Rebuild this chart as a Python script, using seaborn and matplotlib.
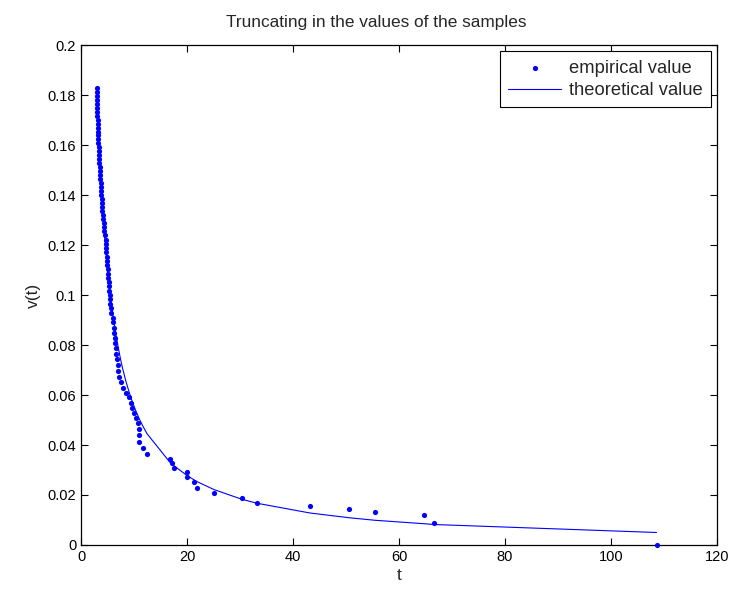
import numpy as np
import pandas as pd
import matplotlib
matplotlib.use('Agg')
import matplotlib.pyplot as plt
import seaborn as sns

# empirical points
emp_t = [2.94, 2.96, 2.98, 3.00, 3.02, 3.05, 3.07, 3.10, 3.12, 3.15, 3.17, 3.20, 3.23, 3.26, 3.29, 3.32, 3.35, 3.39, 3.43,
         3.47, 3.51, 3.55, 3.60, 3.64, 3.69, 3.73, 3.78, 3.83, 3.88, 3.93, 3.99, 4.05, 4.11, 4.17, 4.24, 4.32, 4.40, 4.50,
         4.62, 4.66, 4.72, 4.78, 4.84, 4.90, 4.96, 5.02, 5.08, 5.14, 5.20, 5.26, 5.33, 5.40, 5.47, 5.55, 5.63, 5.72,
         5.95, 6.06, 6.13, 6.25, 6.38, 6.44, 6.51, 6.57, 6.70, 6.89, 7.00, 7.19, 7.45, 7.83, 8.45,
         9.01, 9.39, 9.71, 10.0, 10.33, 10.7, 10.96, 10.96, 10.96, 11.7, 12.46,
         16.73, 17.16, 17.48, 20.06, 20.06, 21.3, 21.94, 25.06, 30.33, 33.2, 43.2, 50.6, 55.4, 64.8, 66.6, 108.6]
emp_v = [0.1828, 0.1812, 0.1796, 0.1780, 0.1765, 0.1749, 0.1733, 0.1717, 0.1702, 0.1686, 0.1670, 0.1654, 0.1639, 0.1623, 0.1607, 0.1591, 0.1576, 0.1560, 0.1544,
         0.1528, 0.1512, 0.1496, 0.1480, 0.1464, 0.1448, 0.1432, 0.1416, 0.1400, 0.1384, 0.1368, 0.1352, 0.1336, 0.1320, 0.1304, 0.1288, 0.1272, 0.1256, 0.1240,
         0.1222, 0.1205, 0.1188, 0.1171, 0.1154, 0.1137, 0.1120, 0.1103, 0.1086, 0.1069, 0.1052, 0.1035, 0.1018, 0.1001, 0.0984, 0.0966, 0.0948, 0.0930,
         0.0909, 0.0891, 0.0869, 0.0849, 0.0829, 0.0807, 0.0787, 0.0763, 0.0743, 0.0720, 0.0696, 0.0673, 0.0653, 0.0629, 0.0607,
         0.0591, 0.0569, 0.0549, 0.0527, 0.0507, 0.0487, 0.0463, 0.0440, 0.0413, 0.0387, 0.0363,
         0.0344, 0.0327, 0.0309, 0.0291, 0.0273, 0.0253, 0.0229, 0.0207, 0.0188, 0.0168, 0.0154, 0.0143, 0.0130, 0.0119, 0.0088, 0.0]

# theoretical curve
theo_t = [2.94, 3.2, 3.5, 4.0, 4.5, 5.0, 5.5, 6.0, 6.5, 7.0, 7.45, 7.83, 8.45, 9.01, 9.39, 9.71, 10.0, 10.33, 10.7, 10.96,
          11.7, 12.46, 16.73, 17.16, 17.48, 20.06, 21.3, 21.94, 25.06, 30.33, 33.2, 43.2, 50.6, 55.4, 64.8, 66.6, 108.6]
theo_v = [0.182, 0.169, 0.155, 0.137, 0.122, 0.110, 0.1005, 0.0922, 0.0852, 0.0792, 0.0744, 0.0708, 0.0656, 0.0616, 0.0591,
          0.0572, 0.0555, 0.0537, 0.0519, 0.0506, 0.0474, 0.0445, 0.0332, 0.0323, 0.0318, 0.0277, 0.0261, 0.0253, 0.0222,
          0.0183, 0.0167, 0.0128, 0.0109, 0.0099, 0.0085, 0.0082, 0.0050]

xticks = [0, 20, 40, 60, 80, 100, 120]
yticks = [0, 0.02, 0.04, 0.06, 0.08, 0.1, 0.12, 0.14, 0.16, 0.18, 0.2]
ytick_labels = ['0', '0.02', '0.04', '0.06', '0.08', '0.1', '0.12', '0.14', '0.16', '0.18', '0.2']

sns.set_style('ticks')
plt.rcParams['font.family'] = ['Liberation Sans', 'DejaVu Sans']

emp = pd.DataFrame({'t': emp_t, 'v': emp_v})
theo = pd.DataFrame({'t': theo_t, 'v': theo_v})

fig = plt.figure(figsize=(7.38, 5.94), dpi=100)
ax = fig.add_axes([0.1098, 0.0825, 0.8617, 0.8417])

sns.scatterplot(data=emp, x='t', y='v', ax=ax, color='blue', s=14, linewidth=0,
                label='empirical value', zorder=3, clip_on=False)
sns.lineplot(data=theo, x='t', y='v', ax=ax, color='blue', lw=0.8, sort=False,
             estimator=None, label='theoretical value', zorder=2)

ax.set_xlim(0, 120)
ax.set_ylim(0, 0.2)
ax.set_xticks(xticks)
ax.set_yticks(yticks)
ax.set_yticklabels(ytick_labels)
ax.tick_params(direction='in', top=True, right=True, length=5, width=0.8, labelsize=10.5, colors='black')
for s in ax.spines.values():
    s.set_linewidth(0.9)
    s.set_color('black')

ax.set_xlabel('t', fontsize=12.5, labelpad=3)
ax.set_ylabel('v(t)', fontsize=12.5, labelpad=5)
ax.set_title('Truncating in the values of the samples', fontsize=12.4, pad=13, x=0.464)

leg = ax.legend(loc='upper right', fancybox=False, framealpha=1, edgecolor='black',
                fontsize=13.2, handlelength=2.9, handletextpad=0.4, borderaxespad=0.35,
                borderpad=0.45, labelspacing=0.3, markerscale=1.0)
leg.get_frame().set_linewidth(0.8)

plt.savefig('out.png', dpi=100)
